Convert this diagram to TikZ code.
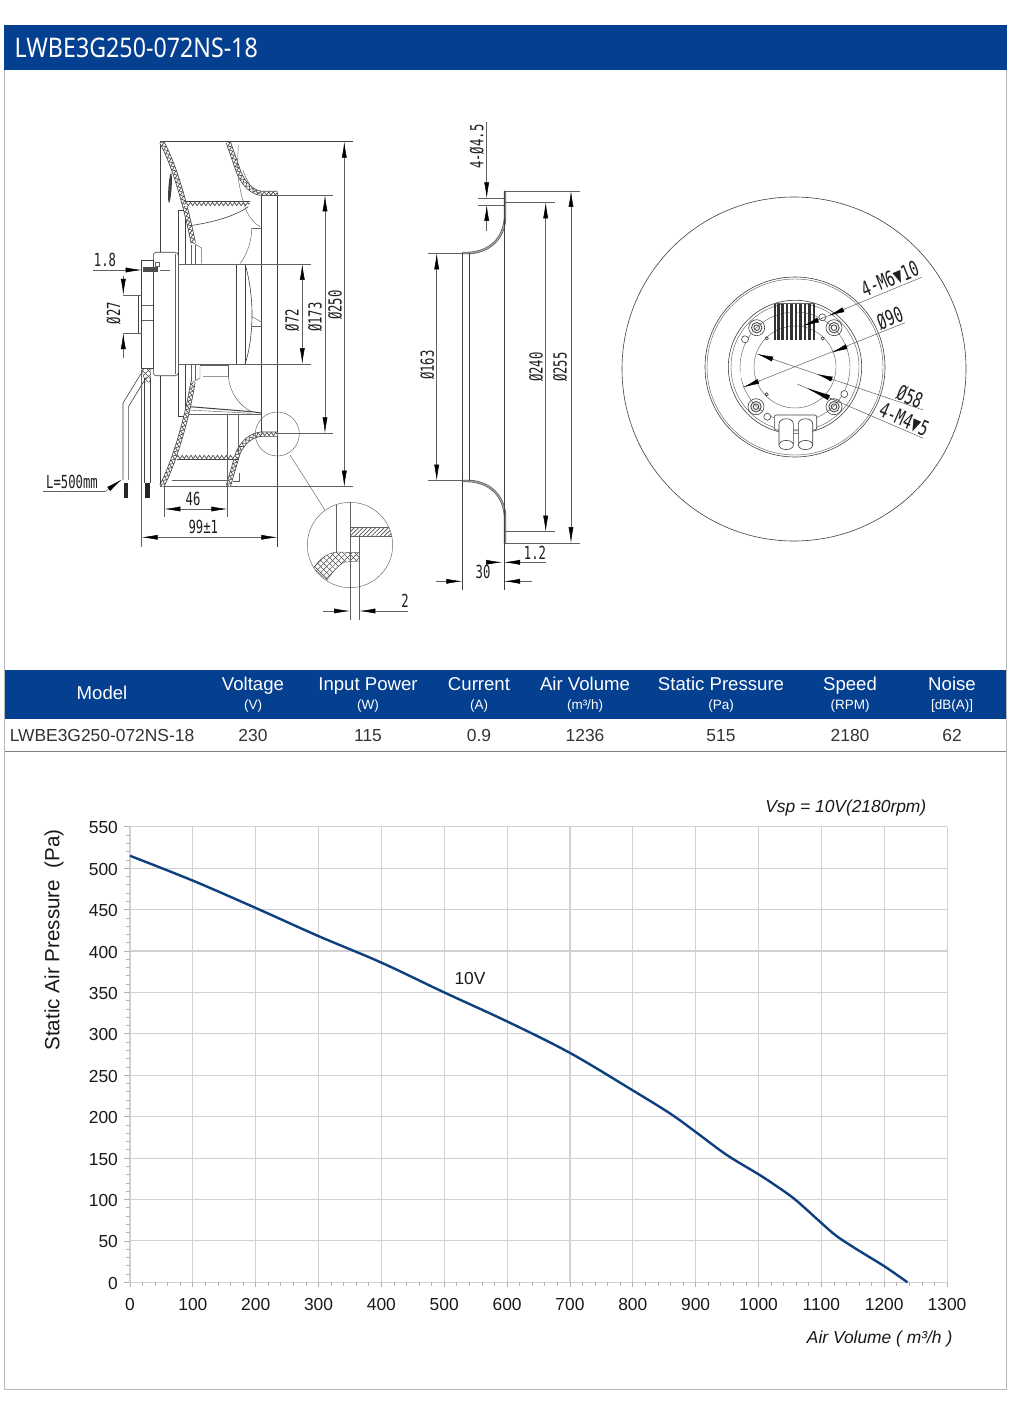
\documentclass[tikz,border=0pt]{standalone}
\usepackage{fontspec}
\setmainfont{Liberation Sans}
\newfontfamily\cadfont[FakeStretch=.68]{DejaVu Sans Mono}
\newfontfamily\titlefont[FakeStretch=.86]{Noto Sans}
\usetikzlibrary{arrows.meta,patterns.meta,decorations.pathmorphing}
\definecolor{barblue}{HTML}{04408F}
\definecolor{curveblue}{HTML}{0E3F7F}
\tikzset{
    dimhead/.tip = {Latex[length=16pt,width=5pt,black]},
    longhead/.tip = {Latex[length=26pt,width=5.4pt,black]},
    part/.style = {draw=black!75, line width=.6pt},
    thin part/.style = {draw=black!62, line width=.45pt},
    shell/.style = {preaction={draw=black!75, line width=5pt}, preaction={draw=white, line width=3.5pt}, decoration={zigzag, segment length=4.4pt, amplitude=1.7pt}, postaction={decorate, draw=black!70, line width=.7pt}},
    rim/.style = {draw=black!75, line width=.55pt, double=black!35, double distance=1.3pt},
    extline/.style = {draw=black!62, line width=.5pt},
    dimtip/.style = {extline, -dimhead},
    dimboth/.style = {extline, dimhead-dimhead},
    cad/.style = {font=\cadfont\fontsize{18}{18}\selectfont, text=black!88, inner sep=0pt},
    cadbig/.style = {font=\cadfont\fontsize{21}{21}\selectfont, text=black!88, inner sep=0pt},
    head/.style = {text=white, anchor=base, font=\fontsize{18.6}{20}\selectfont, inner sep=0pt},
    unit/.style = {text=white, anchor=base, font=\fontsize{13.5}{15}\selectfont, inner sep=0pt},
    cell/.style = {text=black!80, anchor=base, font=\fontsize{17.4}{19}\selectfont, inner sep=0pt},
    tick/.style = {text=black!90, font=\fontsize{17.4}{19}\selectfont, inner sep=0pt},
    gridline/.style = {draw=black!18, line width=1.1pt},
    minor/.style = {draw=black!30, line width=.8pt},
    cross/.style = {pattern={Lines[angle=45,distance=4.2pt,line width=.5pt]}, pattern color=black!70},
    crossb/.style = {pattern={Lines[angle=-45,distance=4.2pt,line width=.5pt]}, pattern color=black!70},
    hatch/.style = {pattern={Lines[angle=45,distance=3pt,line width=.6pt]}, pattern color=black!70}
}

\begin{document}
\begin{tikzpicture}[x=1pt,y=-1pt]
	\useasboundingbox (0,0) rectangle (1010,1404);
	\fill[white] (0,0) rectangle (1010,1404);

	\draw[draw=black!28, line width=.8pt] (4.5,25) rectangle (1006,1389);
	\fill[barblue] (4,25) rectangle (1006.5,70);
	\node[anchor=west, text=white, inner sep=0pt, font=\titlefont\fontsize{27}{28}\selectfont] (title) at (14.5,47.5) {LWBE3G250-072NS-18};

	% side view
	\draw[part] (160,141.7) -- (160,486.7);
	\draw[part] (277.3,192) -- (277.3,546.7);
	\draw[part] (261.7,194) -- (261.7,434);
	\draw[part] (160,141.7) -- (353,141.7);
	\draw[extline] (160,486.7) -- (353,486.7);
	\draw[part] (178.3,210) rectangle (185,416.7);

	\path[shell] (161.7,142.3) .. controls (172,160) and (184,197) .. (193.3,243);
	\path[shell] (161.7,486) .. controls (172,467) and (186,425) .. (193,382);
	\path[shell] (228.3,142.3) -- (239,173) .. controls (244,184) and (252,193) .. (263,193.5) -- (277.3,193.5);
	\path[shell] (228.3,486) -- (238,453) .. controls (243,442) and (251,435) .. (262,434) -- (277.3,434);
	\path[shell] (185,204) -- (250,204);
	\path[shell] (176.7,457) -- (238.3,457);

	\draw[thin part] (193.3,243) -- (201.7,248) -- (201.7,263.5);
	\draw[thin part] (193,382) -- (200,378) -- (200,365);
	\draw[thin part] (191.7,245) -- (191.7,264);
	\draw[thin part] (195,245) -- (195,264);
	\draw[thin part] (191.7,364) -- (191.7,382);
	\draw[thin part] (195,364) -- (195,380);
	\draw[thin part] (238.3,145) -- (237.3,168);
	\draw[part] (190,225.7) .. controls (215,222) and (235,216) .. (248.3,206.7);
	\draw[thin part] (238,177) .. controls (240,190) and (243,203) .. (246.7,211.7) .. controls (250,218) and (255,224) .. (260,226.7);
	\draw[thin part] (243,170) .. controls (246,180) and (252,190) .. (260,194);
	\draw[thin part] (251.7,228.3) -- (261.7,228.3);
	\draw[thin part] (251.7,228.3) .. controls (252,240) and (247,255) .. (240,263.5);
	\draw[thin part] (252,316.7) -- (261.7,322);
	\draw[thin part] (252,326) -- (261.7,326);

	\draw[thin part] (227.7,414.5) -- (227.7,486.7);
	\draw[thin part] (238.3,414.5) -- (238.3,455);
	\draw[thin part] (171.7,480) -- (228,480);
	\draw[thin part] (233.3,481.7) -- (239,481.7) -- (239,473);
	\draw[part, line width=1pt] (190,406.7) -- (251.7,411.7) -- (261,413);
	\draw[thin part] (188,410) -- (251.7,413.3);
	\draw[thin part] (188.3,414.5) -- (261.7,414.5);
	\draw[thin part] (200,365) -- (228.3,365) -- (228.3,376.7);
	\draw[thin part] (203,376.7) -- (228.3,376.7) .. controls (230,392) and (238,405) .. (251.7,411.7);
	\fill[black!75, rotate around={-4:(170,188)}] (170,188) ellipse (1.6pt and 15pt);

	\draw[part, fill=white] (178.3,264) rectangle (236.7,364);
	\draw[part] (236.7,264) rectangle (245,364);
	\draw[part] (245,264) .. controls (250,280) and (252,300) .. (252,314) .. controls (252,330) and (250,350) .. (245,364);
	\draw[part, fill=white, rounded corners=3pt] (153.3,252.3) rectangle (178.3,375.7);
	\draw[thin part] (175,254) -- (175,374);
	\draw[part, fill=white] (141.7,260) rectangle (153.3,368.3);
	\draw[part] (138.3,295) rectangle (141.7,333);
	\draw[thin part] (141.7,305) -- (153.3,305);
	\draw[thin part] (141.7,320) -- (153.3,320);
	\fill[black!70] (143,267) rectangle (158,272);
	\draw[thin part] (155,262) rectangle (159,266);

	% wires
	\draw[cross, draw=black!72] (141.7,368.3) -- (151,368.3) -- (150,382) -- (145,382) -- cycle;
	\fill[crossb] (141.7,368.3) -- (151,368.3) -- (150,382) -- (145,382) -- cycle;
	\draw[part] (142,372) -- (123,403) -- (123,480);
	\draw[part] (146.5,377) -- (128.3,407) -- (128.3,480);
	\draw[part] (144.3,378) -- (144.3,483);
	\draw[part] (150,378) -- (150,483);
	\fill[black!85] (124,483) rectangle (128,498);
	\fill[black!85] (145,483) rectangle (149.5,498);

	\draw[thin part] (277.3,434) circle (22pt);
	\draw[thin part] (290,455) -- (325,510);

	% side view dimensions
	\draw[extline] (277.3,195.3) -- (333,195.3);
	\draw[extline] (277.3,433.3) -- (333,433.3);
	\draw[extline] (178.3,264) -- (310.7,264);
	\draw[extline] (178.3,364) -- (310.7,364);
	\draw[dimboth] (344.3,141.7) -- (344.3,486.7);
	\draw[dimboth] (325,195.3) -- (325,433.3);
	\draw[dimboth] (302.3,264) -- (302.3,364);
	\draw[extline] (123,295) -- (141.7,295);
	\draw[extline] (123,333) -- (141.7,333);
	\draw[dimtip] (123.3,276) -- (123.3,295);
	\draw[dimtip] (123.3,358) -- (123.3,333);
	\draw[extline] (93,270) -- (122,270);
	\draw[dimtip] (122,270) -- (141.7,270);
	\draw[extline] (160,270) -- (170,270);
	\draw[extline] (164.3,486.7) -- (164.3,517);
	\draw[extline] (227.3,486.7) -- (227.3,517);
	\draw[dimboth] (164.3,509) -- (227.3,509);
	\draw[extline] (141.7,370) -- (141.7,546.7);
	\draw[dimboth] (141.7,537.3) -- (277.3,537.3);
	\draw[extline] (43,491.7) -- (105,491.7);
	\draw[dimtip] (105,491.7) -- (121.7,479.5);

	\node[cad, rotate=90] (d250) at (335,305) {Ø250};
	\node[cad, rotate=90] (d173) at (315,317) {Ø173};
	\node[cad, rotate=90] (d72) at (292,320) {Ø72};
	\node[cad, rotate=90] (d27) at (113.5,313) {Ø27};
	\node[cad] (t18) at (105,260) {1.8};
	\node[cad] (t46) at (193,499) {46};
	\node[cad] (t99) at (203.3,527) {99±1};
	\node[cad] (tlen) at (72,482) {L=500mm};

	% detail
	\begin{scope}
		\clip (350,545) circle (42.7pt);
		\draw[thin part, hatch] (350,527.3) rectangle (393,536.7);
		\draw[thin part, cross] (313.3,568.3) .. controls (320,558) and (328,553) .. (336.7,552) -- (359.3,552.7) -- (359.3,561) -- (345,562) .. controls (338,565) and (333,572) .. (327,580) -- cycle;
		\fill[crossb] (313.3,568.3) .. controls (320,558) and (328,553) .. (336.7,552) -- (359.3,552.7) -- (359.3,561) -- (345,562) .. controls (338,565) and (333,572) .. (327,580) -- cycle;
	\end{scope}
	\draw[thin part] (350,545) circle (42.7pt);
	\draw[thin part] (336.7,505) -- (336.7,552);
	\draw[thin part] (350,501.7) -- (350,620);
	\draw[thin part] (359.3,536.7) -- (359.3,620);
	\draw[dimtip] (323.3,611) -- (350,611);
	\draw[dimtip] (378,611) -- (359.3,611);
	\draw[extline] (378,611) -- (408,611);
	\node[cad] (t2) at (405,601) {2};

	% inlet ring
	\foreach \s/\o in {1/0,-1/734}{
		\begin{scope}[shift={(0,\o)},yscale=\s]
			\path[rim] (462.3,253) -- (469,253) .. controls (490,252) and (504,238) .. (505,218) -- (505,191);
			\draw[extline] (504,191) -- (580,191);
			\draw[extline] (504,202.3) -- (555,202.3);
			\draw[extline] (428.3,253.3) -- (462.3,253.3);
		\end{scope}
	}
	\draw[part] (462.3,253) -- (462.3,590);
	\draw[part] (469.3,253) -- (469.3,481);
	\draw[part] (504,191) -- (504,590);
	\draw[dimboth] (571,191) -- (571,543);
	\draw[dimboth] (545.7,202.3) -- (545.7,531.7);
	\draw[dimboth] (436.7,253.3) -- (436.7,480.7);
	\draw[extline] (477.7,198.3) -- (504,198.3);
	\draw[extline] (477.7,205) -- (504,205);
	\draw[dimtip] (486.7,121.7) -- (486.7,198.3);
	\draw[dimtip] (486.7,230.7) -- (486.7,205);
	\draw[dimtip] (486,562.3) -- (502,562.3);
	\draw[dimtip] (523,562.3) -- (504,562.3);
	\draw[extline] (523,562.3) -- (546,562.3);
	\draw[dimtip] (436,581.3) -- (462.3,581.3);
	\draw[dimtip] (531.7,581.3) -- (504,581.3);

	\node[cad, rotate=90] (d163) at (427.3,365) {Ø163};
	\node[cad, rotate=90] (d240) at (536,367) {Ø240};
	\node[cad, rotate=90] (d255) at (560,367) {Ø255};
	\node[cad, rotate=90] (t45) at (476.7,146.7) {4-Ø4.5};
	\node[cad] (t12) at (535,553) {1.2};
	\node[cad] (t30) at (483,571.7) {30};

	% rear view
	\draw[part] (794,369) circle (172pt);
	\draw[part] (795,367) circle (90pt);
	\draw[thin part] (795,367) circle (88pt);
	\draw[part] (795,367) circle (66.7pt);
	\draw[thin part] (795,367) circle (64pt);
	\draw[thin part, dash pattern=on 40pt off 6pt] (795,367) circle (55pt);
	\draw[thin part] (795,367) circle (41pt);

	\foreach \x in {775,778.5,782.5,787,791.5,796,800.5,805,809.5,814}
		\draw[draw=black!80, line width=2.1pt] (\x,303.5) -- (\x,339.5);
	\draw[thin part] (774,303.5) -- (816,303.5);

	\foreach \x/\y in {756.7/327.7,834/327.7,756/406.7,834/406.7}{
		\draw[part] (\x,\y) circle (8pt);
		\draw[draw=black!70, line width=.9pt] (\x,\y) circle (5.2pt);
		\draw[draw=black!70, line width=.9pt] (\x,\y) circle (2.8pt);
	}
	\foreach \x/\y in {822.3/317.3,745/339.3,844.3/394,767.3/416.7}
		\draw[part, fill=white] (\x,\y) circle (3.5pt);
	\foreach \x/\y in {766.7/338.3,822.7/338.3,766.7/394.3,822.7/395}
		\draw[part] (\x,\y) circle (1.6pt);

	\draw[part, fill=white, rounded corners=2pt] (774.3,415) rectangle (816.7,430);
	\foreach \x in {779,798.3}{
		\draw[part, fill=white] (\x,445) -- (\x,424) .. controls (\x,417) and (\x+14.4,417) .. (\x+14.4,424) -- (\x+14.4,445);
		\draw[part, fill=white] (\x+7.2,445) ellipse (7.2pt and 4.6pt);
	}

	% rear view dimensions
	\draw[extline] (803.3,326) -- (921.7,277.3);
	\draw[extline, dimhead-] (803.3,326) -- (823,317.9);
	\draw[extline, dimhead-] (828.5,315.8) -- (845,309);
	\draw[extline] (743.3,387.3) -- (905,322.7);
	\draw[extline, dimhead-] (743.3,387.3) -- (760,380.6);
	\draw[extline, dimhead-] (831.7,352.6) -- (848,346);
	\draw[extline] (757.3,354) -- (923.3,410);
	\draw[extline, dimhead-] (757.3,354) -- (774,359.6);
	\draw[extline, dimhead-] (816.7,374) -- (833,379.5);
	\draw[extline] (797.3,384) -- (923.3,438.3);
	\draw[extline, longhead-] (805,387.3) -- (842,403.3);

	\node[cadbig, rotate=22] (tm6) at (890,279) {4-M6▼10};
	\node[cadbig, rotate=21] (d90) at (890,318.3) {Ø90};
	\node[cadbig, rotate=-23] (d58) at (910,396.7) {Ø58};
	\node[cadbig, rotate=-24] (tm4) at (904,419.5) {4-M4▼5};

	% table
	\fill[barblue] (5,670) rectangle (1006,719);
	\node[head] (model) at (102,699.5) {Model};
	\foreach \x/\a/\b/\c in {253/Voltage/(V)/230,368/Input Power/(W)/115,479/Current/(A)/0.9,585/Air Volume/{(m³/h)}/1236,721/Static Pressure/(Pa)/515,850/Speed/(RPM)/2180,952/Noise/{[dB(A)]}/62}{
		\node[head] (h\x) at (\x,690.5) {\a};
		\node[unit] (u\x) at (\x,709.5) {\b};
		\node[cell] (c\x) at (\x,741) {\c};
	}
	\node[cell] (name) at (102,741) {LWBE3G250-072NS-18};
	\draw[draw=black!50, line width=1pt] (5,751) -- (1006,751);

	% chart
	\begin{scope}[shift={(130,1282.3)},x=.6285pt,y=.8282pt]
		\foreach \x in {0,100,...,1300}{
			\draw[gridline] (\x,0) -- (\x,550);
			\draw[minor] (\x,0) -- ++(0,-6);
			\node[tick] (x\x) at (\x,-26.5) {\x};
		}
		\foreach \y in {0,50,...,550}{
			\draw[gridline] (0,\y) -- (1300,\y);
			\draw[minor] (0,\y) -- ++(-10,0);
			\node[tick, anchor=east] (y\y) at (-19,\y-1.2) {\y};
		}
		\foreach \x in {20,40,...,1280}
			\draw[minor] (\x,0) -- ++(0,-4);
		\foreach \y in {10,20,...,540}
			\draw[minor] (0,\y) -- ++(-7,0);
		\draw[draw=curveblue, line width=2.4pt, smooth, tension=.55] plot coordinates {(0,515) (100,485) (200,452) (300,418) (400,386) (500,350) (600,315) (700,277) (795,234) (859,204) (901,181) (949,154) (1001,130) (1029,116) (1055,102) (1077,87.5) (1101,71) (1124,56) (1156,40) (1201,19) (1237,0)};
	\end{scope}
	\node[tick] (v10) at (470,978) {10V};
	\node[tick, anchor=east, font=\itshape\fontsize{17.4}{19}\selectfont] (vsp) at (926.5,807.5) {Vsp = 10V(2180rpm)};
	\node[tick, anchor=east, font=\itshape\fontsize{17.4}{19}\selectfont] (airvol) at (952.5,1338.5) {Air Volume ( m³/h )};
	\node[tick, rotate=90, font=\fontsize{20.6}{22}\selectfont] (press) at (54,940) {Static Air Pressure~~(Pa)};
\end{tikzpicture}
\end{document}
